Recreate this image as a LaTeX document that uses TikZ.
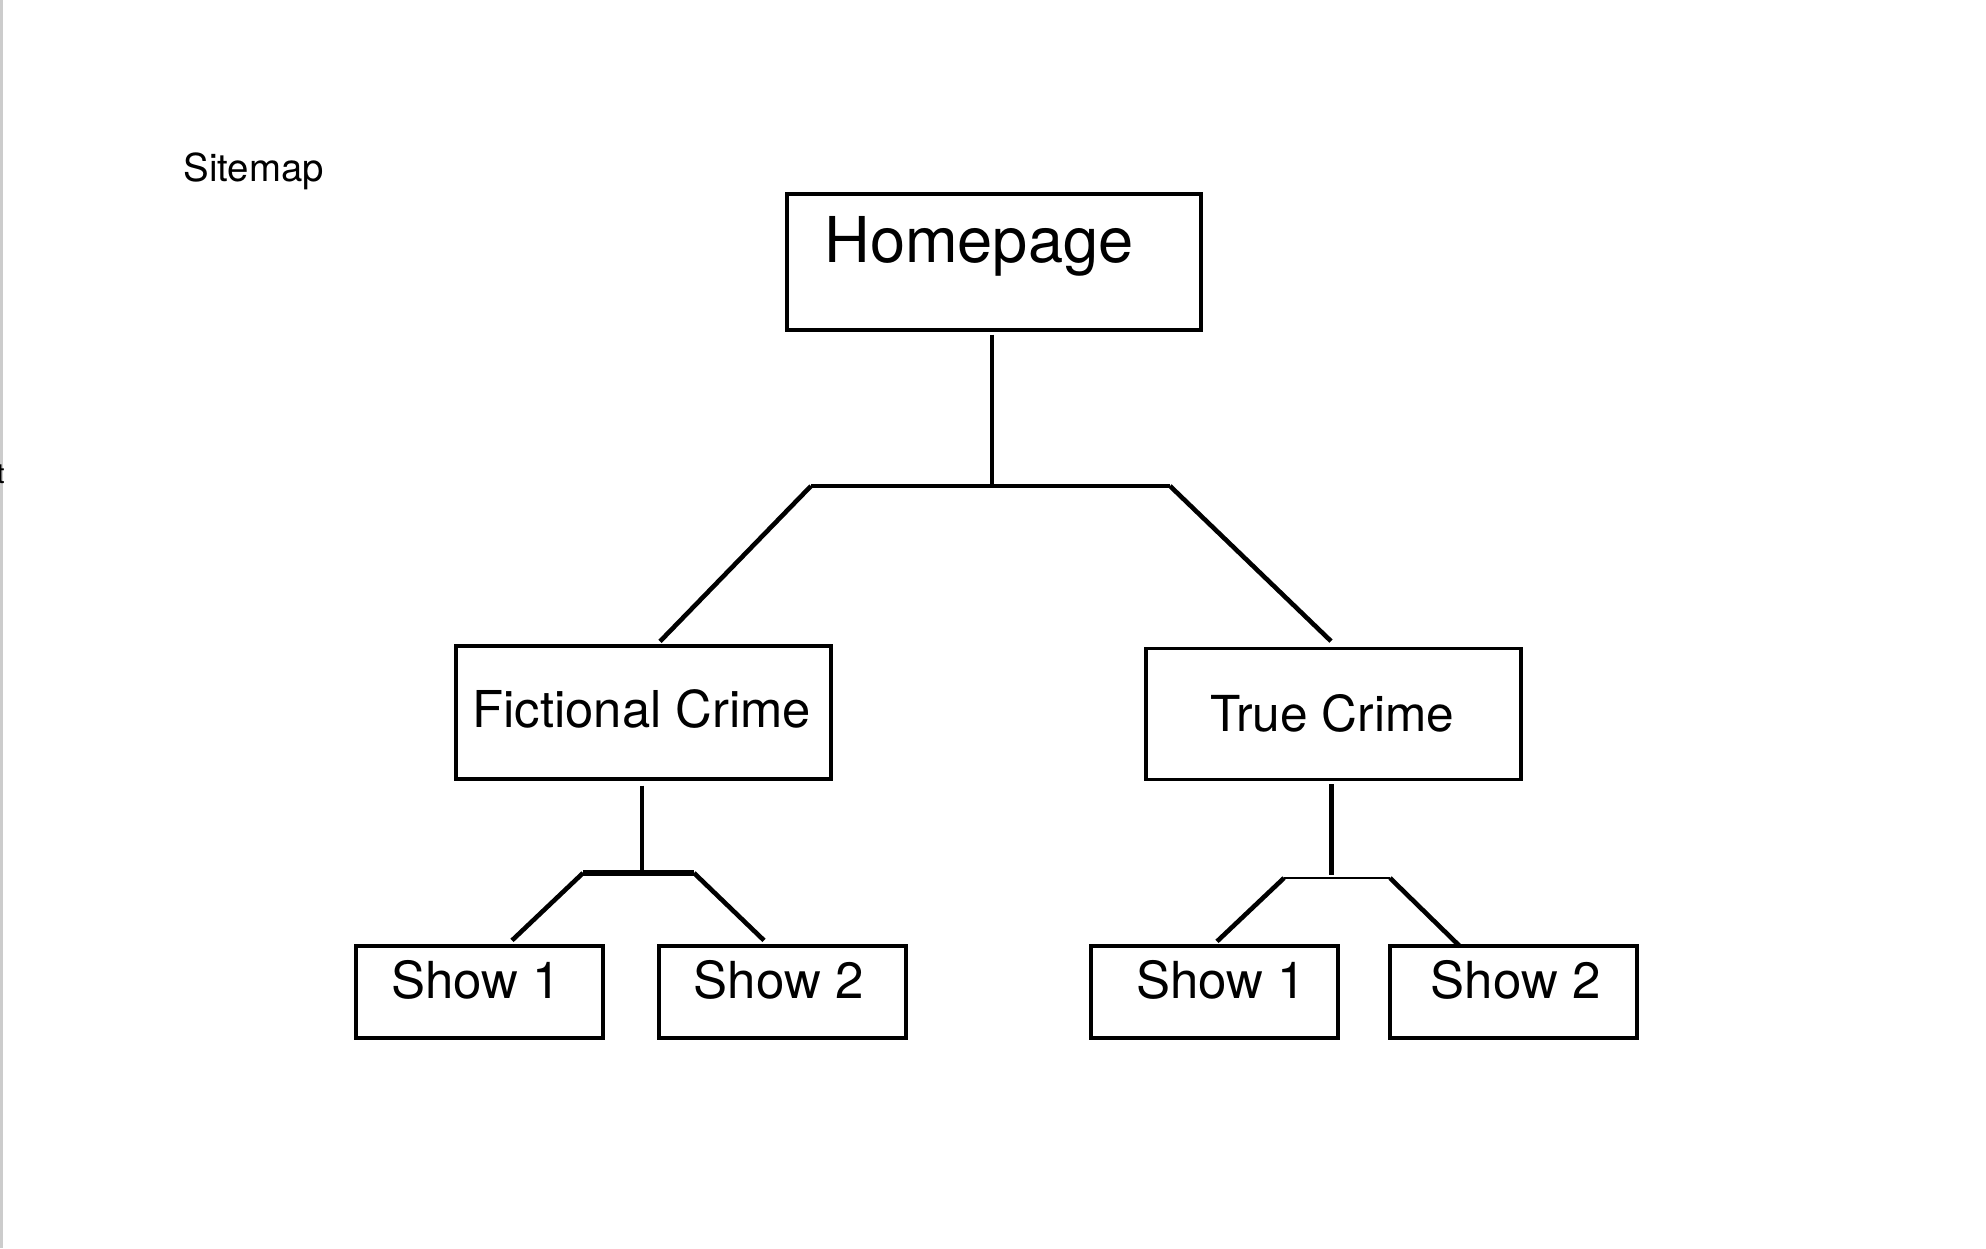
\documentclass[tikz,border=0pt]{standalone}
\usepackage{fontspec}
\setmainfont{TeX Gyre Heros}
\usetikzlibrary{calc}
\begin{document}
\begin{tikzpicture}[x=0.5pt,y=-0.5pt,
  box/.style={draw=black, line width=1.6pt, rectangle, inner sep=0pt},
  lbl/.style={inner sep=0pt, anchor=base west, text=black},
  conn/.style={draw=black, line width=2.3pt, line cap=butt},
  showfont/.style={font=\fontsize{25.5}{30}\selectfont}]
\useasboundingbox (0,0) rectangle (1986,1248);
\fill[white] (0,0) rectangle (1986,1248);
\fill[gray!40] (0,0) rectangle (3,1248);

% boxes
\node[box, minimum width=207pt, minimum height=68pt] (home) at (994,262) {};
\node[box, minimum width=187.5pt, minimum height=66.5pt] (fic) at (643.5,712.5) {};
\node[box, minimum width=187.5pt, minimum height=65.75pt] (true) at (1333.5,714) {};
\node[box, minimum width=123.5pt, minimum height=46pt] (s1L) at (479.5,992) {};
\node[box, minimum width=123.5pt, minimum height=46pt] (s2L) at (782.5,992) {};
\node[box, minimum width=123.5pt, minimum height=46pt] (s1R) at (1214.5,992) {};
\node[box, minimum width=123.5pt, minimum height=46pt] (s2R) at (1513.5,992) {};

% texts
\node[lbl, font=\fontsize{19.2}{22}\selectfont] (sitemap) at (183,181.7) {Sitemap};
\node[lbl, font=\fontsize{31.6}{36}\selectfont] (homet) at (824,262.7) {Homepage};
\node[lbl, font=\fontsize{25.4}{30}\selectfont] (fict) at (472,727) {Fictional Crime};
\node[lbl, font=\fontsize{24.8}{30}\selectfont] (truet) at (1210,731.5) {True Crime};
\node[lbl, showfont] (s1Lt) at (391,998.5) {Show 1};
\node[lbl, showfont] (s2Lt) at (693.5,998.5) {Show 2};
\node[lbl, showfont] (s1Rt) at (1136,998.5) {Show 1};
\node[lbl, showfont] (s2Rt) at (1430.5,998.5) {Show 2};
\node[inner sep=0pt, anchor=base east, font=\fontsize{14}{16}\selectfont] (tcut) at (5,483) {t};

% top connectors
\coordinate (jt) at (992,486);
\coordinate (jtl) at (811,486);
\coordinate (jtr) at (1170,486);
\draw[conn] ($(jt |- home.south)+(0,3)$) -- (jt);
\draw[conn] (jtl) -- (jtr);
\draw[conn] (jtl) -- ($(fic.north)+(16.5,-3)$);
\draw[conn] (jtr) -- ($(true.north)+(-2.5,-5.5)$);

% left group
\coordinate (jl) at (642,873);
\coordinate (jll) at (583,873);
\coordinate (jlr) at (694,873);
\draw[conn] ($(jl |- fic.south)+(0,5)$) -- (jl);
\draw[conn, line width=2.8pt] (jll) -- (jlr);
\draw[conn] (jll) -- ($(s1L.north)+(32.5,-4)$);
\draw[conn] (jlr) -- ($(s2L.north)+(-18.5,-4)$);

% right group
\coordinate (jr) at (1331.5,875);
\coordinate (jrl) at (1284,878);
\coordinate (jrr) at (1390,878);
\draw[conn] ($(jr |- true.south)+(0,3)$) -- (jr);
\draw[conn, line width=1.4pt] (jrl) -- (jrr);
\draw[conn] (jrl) -- ($(s1R.north)+(2.5,-3)$);
\draw[conn] (jrr) -- ($(s2R.north)+(-53.5,2)$);
\end{tikzpicture}
\end{document}
